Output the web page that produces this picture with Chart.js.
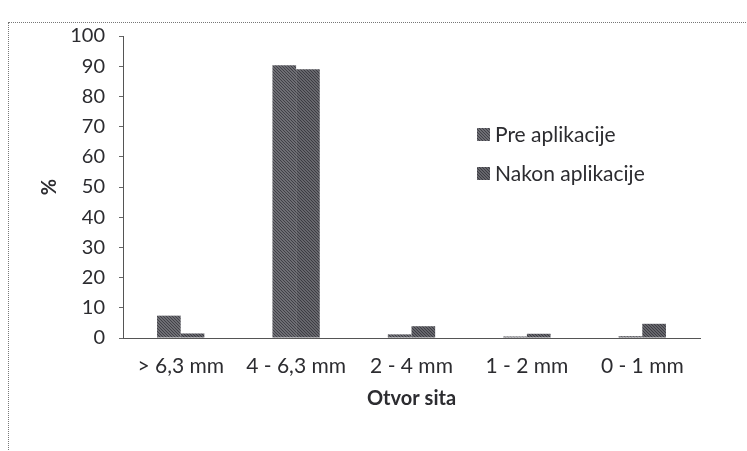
<!DOCTYPE html>
<html>
<head>
<meta charset="utf-8">
<script src="https://cdn.jsdelivr.net/npm/chart.js@4/dist/chart.umd.min.js"></script>
<style>
  html, body { margin:0; padding:0; background:#fff; }
  #wrap { position:relative; width:747px; height:451px; overflow:hidden; }
  #frame { position:absolute; left:8px; top:22px; width:800px; height:500px; border:1px dotted #777; box-sizing:border-box; }
  canvas { position:absolute; left:0; top:0; }
</style>
</head>
<body>
<div id="wrap">
  <div id="frame"></div>
  <canvas id="c" width="747" height="451"></canvas>
</div>
<script>
const categories = ["> 6,3 mm", "4 - 6,3 mm", "2 - 4 mm", "1 - 2 mm", "0 - 1 mm"];
const preAplikacije = [7.4, 90.3, 1.2, 0.5, 0.6];
const nakonAplikacije = [1.5, 89.0, 3.9, 1.4, 4.7];
const yTicks = [0, 10, 20, 30, 40, 50, 60, 70, 80, 90, 100];
const seriesLabels = ["Pre aplikacije", "Nakon aplikacije"];

const FONT = "Lato, 'Noto Sans', sans-serif";
const TXT = '#2c2c30';

function makePattern(a, b) {
  const p = document.createElement('canvas');
  p.width = 3; p.height = 3;
  const g = p.getContext('2d');
  g.fillStyle = a; g.fillRect(0, 0, 3, 3);
  g.fillStyle = b;
  g.fillRect(0, 0, 1, 1); g.fillRect(1, 1, 1, 1); g.fillRect(2, 2, 1, 1);
  return g.createPattern(p, 'repeat');
}
const fillPre = makePattern('#6e6e74', '#404046');
const fillNakon = makePattern('#66666c', '#3c3c42');

const legendPlugin = {
  id: 'customLegend',
  afterDraw(chart) {
    const ctx = chart.ctx;
    const ds = chart.data.datasets;
    ctx.save();
    ctx.font = "21px " + FONT;
    ctx.textBaseline = 'middle';
    const x0 = 477, ys = [134, 173];
    ds.forEach((d, i) => {
      ctx.fillStyle = d.backgroundColor;
      ctx.fillRect(x0, ys[i] - 6, 13, 13);
      ctx.fillStyle = TXT;
      ctx.fillText(d.label, x0 + 18, ys[i] + 1);
    });
    ctx.restore();
  }
};

new Chart(document.getElementById('c'), {
  type: 'bar',
  data: {
    labels: categories,
    datasets: [
      { label: seriesLabels[0], data: preAplikacije, backgroundColor: fillPre, borderWidth: 0 },
      { label: seriesLabels[1], data: nakonAplikacije, backgroundColor: fillNakon, borderWidth: 0 }
    ]
  },
  options: {
    responsive: false,
    animation: false,
    layout: { padding: { left: 0, top: 36, right: 47, bottom: 0 } },
    datasets: { bar: { categoryPercentage: 0.41, barPercentage: 1.0 } },
    plugins: { legend: { display: false }, tooltip: { enabled: false } },
    scales: {
      x: {
        afterFit(s) { s.height = 113; },
        grid: { display: false, drawTicks: false, tickLength: 0 },
        border: { display: true, color: '#555', dash: [2, 1], width: 1 },
        ticks: { color: TXT, font: { family: FONT, size: 21 }, padding: 16 },
        title: { display: true, text: 'Otvor sita', color: TXT,
                 font: { family: FONT, size: 20, weight: 'bold' }, padding: { top: 0, bottom: 40 } }
      },
      y: {
        min: 0, max: 100,
        afterFit(s) { s.width = 123; },
        afterBuildTicks(s) { s.ticks = yTicks.map(v => ({ value: v })); },
        grid: { drawOnChartArea: false, drawTicks: true, tickLength: 4, color: '#666' },
        border: { display: true, color: '#555', dash: [2, 1], width: 1 },
        ticks: { color: TXT, font: { family: FONT, size: 20 }, padding: 14 },
        title: { display: true, text: '%', color: TXT,
                 font: { family: FONT, size: 20, weight: 'bold' }, padding: { top: 38, bottom: 0 } }
      }
    }
  },
  plugins: [legendPlugin]
});
</script>
</body>
</html>
